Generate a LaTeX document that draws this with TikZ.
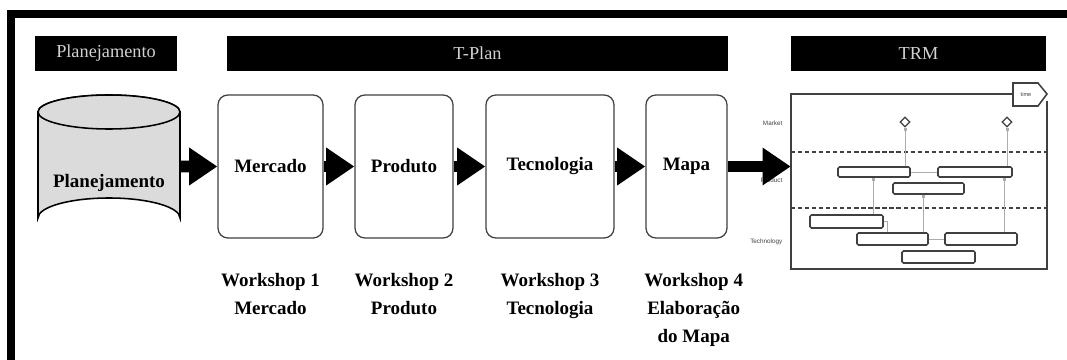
\documentclass[tikz,border=0pt]{standalone}
\usepackage{fontspec}
\setmainfont{Liberation Serif}
\setsansfont{Liberation Sans}
\usetikzlibrary{arrows.meta,positioning,fit,shapes.geometric,calc}

\definecolor{dg}{gray}{0.25}
\definecolor{lg}{gray}{0.86}

\tikzset{
    header/.style = {rectangle,
                    fill=black,
                    text=white!82!black,
                    inner sep=0pt,
                    minimum height={35*0.025cm},
                    font=\fontsize{13}{15}\selectfont},
    stage/.style =  {rectangle,
                    rounded corners=7pt,
                    fill=white,
                    draw=dg,
                    line width=0.9pt,
                    inner sep=0pt,
                    minimum height={143*0.025cm},
                    font=\fontsize{13.5}{16}\selectfont\bfseries},
    wslabel/.style = {align=center,
                    inner sep=0pt,
                    font=\fontsize{13.5}{20}\selectfont\bfseries},
    bar/.style =    {rectangle,
                    rounded corners=1pt,
                    fill=white,
                    draw=dg,
                    line width=1.1pt,
                    inner sep=0pt},
    lane/.style =   {anchor=east,
                    inner sep=1pt,
                    text=dg,
                    font=\sffamily\fontsize{4.5}{5}\selectfont},
    -,
    flow/.style =   {line width=8.5pt,
                    -{Triangle[length=20pt,width=25.5pt]}},
    link/.style =   {draw=gray!65,
                    line width=0.5pt},
    sep/.style =    {draw=dg,
                    line width=1.4pt,
                    dash pattern=on 3pt off 2pt},
    milestone/.style = {diamond,
                    draw=dg,
                    fill=white,
                    line width=0.9pt,
                    inner sep=0pt,
                    minimum size=7pt}}

\begin{document}
\begin{tikzpicture}[x=0.025cm,y=-0.025cm]
        \useasboundingbox (0,0) rectangle (1067,360);
        % frame
        \fill[black] (7,10) rectangle (1067,18);
        \fill[black] (7,10) rectangle (15,360);

        % headers
        \node[header, minimum width={142*0.025cm}] at (106,53.5)   (hplan)  {Planejamento};
        \node[header, minimum width={501*0.025cm}] at (477.5,53.5) (htplan) {T-Plan};
        \node[header, minimum width={255*0.025cm}] at (918.5,53.5) (htrm)   {TRM};

        % database
        \filldraw[fill=lg, draw=black, line width=1.1pt]
            (38,112) -- (38,218) arc[start angle=180, end angle=360, x radius=71, y radius=20]
            -- (180,112) arc[start angle=0, end angle=-180, x radius=71, y radius=17] -- cycle;
        \filldraw[fill=lg, draw=black, line width=1.1pt] (109,112) ellipse[x radius=71, y radius=17];
        \node[fit={(38,95) (180,238)}, inner sep=0pt]  (cyl) {};
        \node at (109,183) [font=\fontsize{13.5}{16}\selectfont\bfseries] (plan) {Planejamento};

        % workshops
        \node[stage, minimum width={105*0.025cm}] at (270.5,166.5) (merc) {Mercado};
        \node[stage, minimum width={98*0.025cm}]  at (404,166.5)   (prod) {Produto};
        \node[stage, minimum width={128*0.025cm}] at (550,166.5)   (tecn) {Tecnologia};
        \node[stage, minimum width={81*0.025cm}]  at (686.5,166.5) (mapa) {Mapa};

        \node[wslabel, below=0.85cm of merc]              (ws1) {Workshop 1\\Mercado};
        \node[wslabel, below=0.85cm of prod]              (ws2) {Workshop 2\\Produto};
        \node[wslabel, below=0.85cm of tecn]              (ws3) {Workshop 3\\Tecnologia};
        \node[wslabel, below=0.85cm of mapa, xshift=0.18cm] (ws4) {Workshop 4\\Elaboração\\do Mapa};

        % roadmap
        \coordinate (tl) at (791,94);
        \coordinate (br) at (1047,269);
        \node[fit={(tl) (br)}, inner sep=0pt]    (trm) {};
        \draw[dg, line width=1.3pt] (1013,94) -- (tl) |- (br) -- (1047,101);
        \draw[dg, line width=1.1pt, fill=white]
            (1013,83) -- (1038,83) -- (1047,94) -- (1038,106) -- (1013,106) -- cycle;
        \node at (1026,94) [text=dg, inner sep=0pt, font=\sffamily\fontsize{4}{5}\selectfont] (time) {time};
        \draw[sep] (791,152) -- (1047,152);
        \draw[sep] (791,208) -- (1047,208);

        \node[lane] at (784,123) (lmkt)  {Market};
        \node[lane] at (784,180) (lprd)  {Product};
        \node[lane] at (784,242) (ltec)  {Technology};

        \node[milestone] at (905,122)  (d1) {};
        \node[milestone] at (1007,122) (d2) {};

        \node[bar, fit={(838,167) (910,177)}]    (b1) {};
        \node[bar, fit={(938,167) (1012,177)}]   (b2) {};
        \node[bar, fit={(893,183) (964,194)}]    (b3) {};
        \node[bar, fit={(810,215) (883,228)}]    (b4) {};
        \node[bar, fit={(857,233) (928,245)}]    (b5) {};
        \node[bar, fit={(945,233) (1017,245)}]   (b6) {};
        \node[bar, fit={(902,251) (975,263)}]    (b7) {};

        \coordinate (x1) at (873,0);
        \coordinate (x2) at (923,0);
        \coordinate (x3) at (1004,0);
        \coordinate (x4) at (887,0);
        \draw[link, -{Square[length=2pt]}] (d1.south |- b1.north) -- (d1.south);
        \draw[link, -{Square[length=2pt]}] (d2.south |- b2.north) -- (d2.south);
        \draw[link] (b1.east) -- (b2.west);
        \draw[link, -{Square[length=2pt]}] (x1 |- b4.north) -- (x1 |- b1.south);
        \draw[link, -{Square[length=2pt]}] (x2 |- b5.north) -- (x2 |- b3.south);
        \draw[link, -{Square[length=2pt]}] (x3 |- b6.north) -- (x3 |- b2.south);
        \draw[link] (b4.east) -| (x4 |- b5.north);
        \draw[link] (b5.east) -- (b6.west);

        % flow
        \draw[flow] (cyl) -- (merc);
        \draw[flow] (merc) -- (prod);
        \draw[flow] (prod) -- (tecn);
        \draw[flow] (tecn) -- (mapa);
        \draw[flow] (mapa) -- (trm.west |- mapa);
\end{tikzpicture}
\end{document}
